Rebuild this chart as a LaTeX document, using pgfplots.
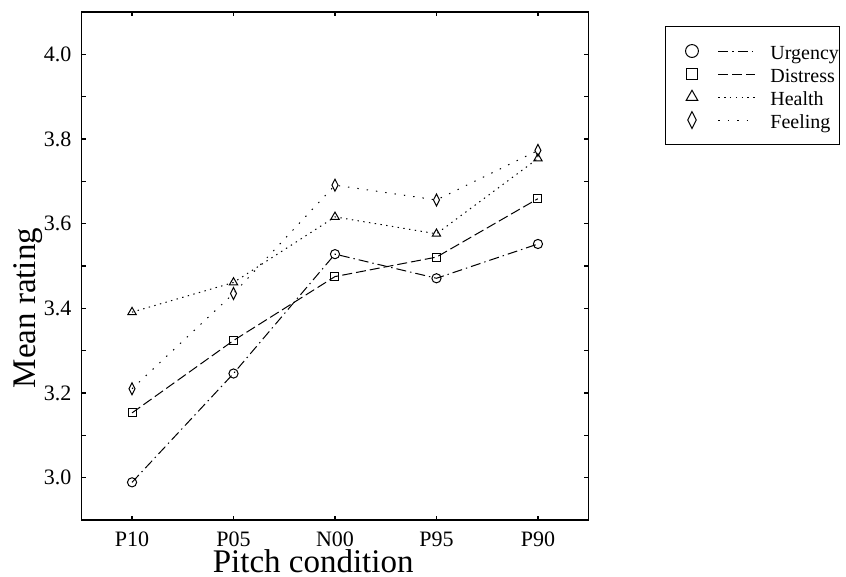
\documentclass[border=0pt]{standalone}
\usepackage{fontspec}
\setmainfont{Liberation Serif}
\usepackage{pgfplots}
\pgfplotsset{compat=1.18}
\newcommand{\lstrut}{\rule[-3pt]{0pt}{13pt}}
\begin{document}
\begin{tikzpicture}
\useasboundingbox (-40.65pt,-28.5pt) rectangle (382.35pt,260pt);
\begin{axis}[
  scale only axis, width=253.7pt, height=254pt,
  xmin=-0.5, xmax=4.5, ymin=2.9, ymax=4.1,
  xtick={0,1,2,3,4}, xticklabels={P10,P05,N00,P95,P90},
  ytick={3.0,3.2,3.4,3.6,3.8,4.0}, minor y tick num=1,
  /pgf/number format/assume math mode=true,
  yticklabel style={/pgf/number format/fixed, /pgf/number format/fixed zerofill, /pgf/number format/precision=1},
  tick align=inside, tick pos=both, major tick length=2.2pt, minor tick length=2.2pt,
  tick style={black, line width=0.6pt},
  axis line style={line width=0.6pt},
  ticklabel style={font=\fontsize{11}{13}\selectfont},
  xticklabel style={anchor=base, inner sep=0pt, yshift=-13.3pt},
  yticklabel style={anchor=east, inner sep=0pt, xshift=-4.8pt},
  xlabel={Pitch condition}, ylabel={Mean rating},
  label style={font=\fontsize{16.5}{19}\selectfont, inner sep=0pt},
  xlabel style={at={(axis description cs:0.457,-0.104)}, anchor=base},
  ylabel style={at={(axis description cs:-0.105,0.417)}, anchor=center},
  legend style={at={(axis description cs:1.150,0.972)}, anchor=north west,
    draw=black, line width=0.6pt, inner xsep=0.5pt, inner ysep=6.35pt,
    font=\fontsize{10}{12}\selectfont,
    nodes={inner sep=0pt},
    row sep=0pt, column sep=0pt},
  legend cell align=left,
  legend image code/.code={
    \path[draw=none] (-12.8pt,0pt) -- (39.2pt,0pt);
    \draw[#1, mark=none] (13.2pt,0pt) -- (31.7pt,0pt);
    \draw[#1, only marks, every mark/.append style={scale=1.4}] plot coordinates {(0pt,0pt)};
  },
  every axis plot/.append style={black, line width=0.5pt},
]
\addplot[dash pattern=on 5pt off 2pt on 0.7pt off 2pt, mark=o, mark size=2.3pt, mark options={solid}]
  coordinates {(0,2.989) (1,3.246) (2,3.528) (3,3.471) (4,3.552)};
\addplot[dash pattern=on 5pt off 2pt, mark=square, mark size=2pt, mark options={solid}]
  coordinates {(0,3.153) (1,3.324) (2,3.475) (3,3.521) (4,3.659)};
\addplot[dash pattern=on 0.7pt off 2.2pt, mark=triangle, mark size=2.4pt, mark options={solid}]
  coordinates {(0,3.391) (1,3.461) (2,3.616) (3,3.576) (4,3.754)};
\addplot[dash pattern=on 0.7pt off 4pt, mark=diamond, mark size=3pt, mark options={solid, xscale=0.67}]
  coordinates {(0,3.210) (1,3.435) (2,3.691) (3,3.656) (4,3.773)};
\legend{\lstrut Urgency, \lstrut Distress, \lstrut Health, \lstrut Feeling}
\end{axis}
\end{tikzpicture}
\end{document}
